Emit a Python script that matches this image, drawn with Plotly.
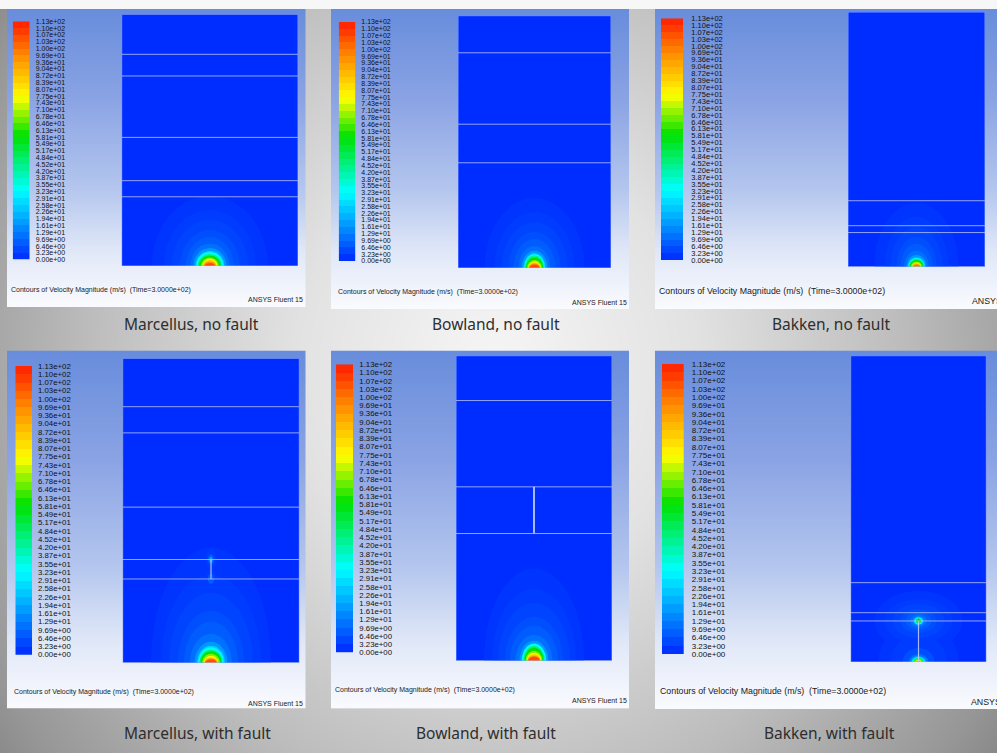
import numpy as np
import plotly.graph_objects as go
from plotly.colors import sample_colorscale

# ------------------------------------------------------------------ data
tick_labels = ["0.00e+00", "3.23e+00", "6.46e+00", "9.69e+00", "1.29e+01", "1.61e+01",
               "1.94e+01", "2.26e+01", "2.58e+01", "2.91e+01", "3.23e+01", "3.55e+01",
               "3.87e+01", "4.20e+01", "4.52e+01", "4.84e+01", "5.17e+01", "5.49e+01",
               "5.81e+01", "6.13e+01", "6.46e+01", "6.78e+01", "7.10e+01", "7.43e+01",
               "7.75e+01", "8.07e+01", "8.39e+01", "8.72e+01", "9.04e+01", "9.36e+01",
               "9.69e+01", "1.00e+02", "1.03e+02", "1.07e+02", "1.10e+02", "1.13e+02"]
tick_values = [float(s) for s in tick_labels]
vel_min, vel_max = 0.0, 113.0
background_velocity = 0.8   # far-field velocity in the formation (m/s)

velocity_colorscale = [
    [0.00, "rgb(0,40,255)"],
    [0.29, "rgb(0,255,255)"],
    [0.52, "rgb(0,225,0)"],
    [0.68, "rgb(255,255,0)"],
    [0.84, "rgb(255,150,0)"],
    [1.00, "rgb(255,30,0)"],
]

panel_titles = ["Marcellus, no fault", "Bowland, no fault", "Bakken, no fault",
                "Marcellus, with fault", "Bowland, with fault", "Bakken, with fault"]
info_text = "Contours of Velocity Magnitude (m/s) \u00a0(Time=3.0000e+02)"
brand_text = "ANSYS Fluent 15"

# layer boundaries: depth as fraction of domain height (0 = top)
marcellus_layers = [0.159, 0.245, 0.489, 0.661, 0.725]
bowland_layers = [0.147, 0.430, 0.583]
bakken_layers = [0.741, 0.839, 0.866]
# fault extent (depth fractions), on the injection axis
marcellus_fault = [0.661, 0.725]
bowland_fault = [0.430, 0.583]
bakken_fault = [0.866, 1.0]

# velocity contour extents around sources:
# level (m/s), half-width (fraction of domain width), height (fraction of domain depth)
halo_levels = [2.0, 3.0, 4.2, 6.0, 8.0, 11.0, 17.0, 25.8, 32.3, 45.2, 58.1, 67.8, 77.5, 87.2, 96.9, 106]

p1_levels = halo_levels
p1_rx = [0.329, 0.261, 0.216, 0.170, 0.136, 0.111, 0.094, 0.082, 0.077, 0.070, 0.062, 0.051, 0.043, 0.039, 0.034, 0.029]
p1_ry = [0.278, 0.222, 0.183, 0.143, 0.115, 0.089, 0.072, 0.060, 0.055, 0.048, 0.042, 0.034, 0.029, 0.024, 0.018, 0.012]

p2_levels = halo_levels
p2_rx = [0.327, 0.261, 0.216, 0.170, 0.137, 0.105, 0.085, 0.072, 0.067, 0.063, 0.057, 0.049, 0.042, 0.039, 0.036, 0.033]
p2_ry = [0.277, 0.222, 0.182, 0.143, 0.115, 0.087, 0.069, 0.059, 0.055, 0.050, 0.042, 0.032, 0.026, 0.022, 0.018, 0.014]

p3_levels = [2.0, 3.0, 4.2, 6.0, 8.0, 11.0, 17.0, 25.8, 32.3, 45.2, 58.1, 71.0, 84.0, 100]
p3_rx = [0.307, 0.234, 0.190, 0.146, 0.117, 0.091, 0.073, 0.064, 0.058, 0.055, 0.051, 0.040, 0.033, 0.027]
p3_ry = [0.251, 0.196, 0.157, 0.118, 0.090, 0.063, 0.047, 0.037, 0.034, 0.031, 0.027, 0.020, 0.015, 0.010]

p4_levels = halo_levels
p4_rx = [0.340, 0.283, 0.238, 0.187, 0.153, 0.119, 0.093, 0.079, 0.072, 0.066, 0.061, 0.051, 0.042, 0.039, 0.035, 0.033]
p4_ry = [0.378, 0.289, 0.230, 0.171, 0.135, 0.095, 0.069, 0.056, 0.051, 0.043, 0.038, 0.030, 0.023, 0.018, 0.014, 0.011]
p4_tip_levels = [3.0, 8.0, 20.0]
p4_tip_rx = [0.030, 0.018, 0.009]
p4_tip_ry = [0.032, 0.017, 0.009]

p5_levels = halo_levels
p5_rx = [0.321, 0.269, 0.231, 0.186, 0.154, 0.119, 0.093, 0.080, 0.077, 0.069, 0.062, 0.054, 0.048, 0.044, 0.040, 0.037]
p5_ry = [0.302, 0.236, 0.190, 0.144, 0.115, 0.085, 0.066, 0.057, 0.056, 0.049, 0.043, 0.033, 0.026, 0.021, 0.016, 0.013]

p6_top_levels = [2.0, 3.0, 4.2, 6.0, 8.0, 11.0, 17.0, 32.3, 58.1]
p6_top_rx = [0.324, 0.251, 0.192, 0.133, 0.096, 0.062, 0.042, 0.032, 0.021]
p6_top_ry = [0.098, 0.072, 0.056, 0.039, 0.029, 0.021, 0.015, 0.012, 0.0085]
p6_bot_levels = [2.0, 3.0, 6.0, 11.0, 19.4, 32.3, 48.4, 64.6, 80.0, 95.0]
p6_bot_rx = [0.295, 0.206, 0.118, 0.074, 0.059, 0.048, 0.041, 0.033, 0.024, 0.015]
p6_bot_ry = [0.131, 0.091, 0.046, 0.026, 0.020, 0.016, 0.014, 0.011, 0.007, 0.004]

panel_layers = [marcellus_layers, bowland_layers, bakken_layers,
                marcellus_layers, bowland_layers, bakken_layers]
panel_faults = [None, None, None, marcellus_fault, bowland_fault, bakken_fault]
panel_sources = [
    [dict(depth=1.0, full=False, lv=p1_levels, rx=p1_rx, ry=p1_ry)],
    [dict(depth=1.0, full=False, lv=p2_levels, rx=p2_rx, ry=p2_ry)],
    [dict(depth=1.0, full=False, lv=p3_levels, rx=p3_rx, ry=p3_ry)],
    [dict(depth=1.0, full=False, lv=p4_levels, rx=p4_rx, ry=p4_ry),
     dict(depth=marcellus_fault[0], full=True, lv=p4_tip_levels, rx=p4_tip_rx, ry=p4_tip_ry),
     dict(depth=marcellus_fault[1], full=True, lv=p4_tip_levels[:2], rx=p4_tip_rx[:2], ry=p4_tip_ry[:2])],
    [dict(depth=1.0, full=False, lv=p5_levels, rx=p5_rx, ry=p5_ry)],
    [dict(depth=1.0, full=False, lv=p6_bot_levels, rx=p6_bot_rx, ry=p6_bot_ry),
     dict(depth=bakken_fault[0], full=True, lv=p6_top_levels, rx=p6_top_rx, ry=p6_top_ry)],
]

# ------------------------------------------------------------------ layout geometry (pixels)
W, H = 997, 753
FONT_SMALL = "Liberation Sans Narrow, Liberation Sans, Arial, sans-serif"
FONT_REG = "Liberation Sans, Arial, sans-serif"

geom = [
    dict(box=(7, 9, 305.5, 307), cbar=(12.7, 21.3, 29.7, 259.7), dom=(121.7, 14.3, 298, 266),
         tfont=(FONT_SMALL, 7), tgap=5, info=(9, 290, 7, "left"), brand=(305, 299.7, 7, "right"),
         cap=(191, 324), fw=1.2),
    dict(box=(331, 9, 629, 309), cbar=(338.7, 22, 355.3, 261), dom=(458, 15.7, 611, 268),
         tfont=(FONT_SMALL, 7), tgap=5, info=(335.7, 292.3, 7, "left"), brand=(629, 302, 7, "right"),
         cap=(495.5, 324), fw=1.2),
    dict(box=(655, 9, 997, 309), cbar=(661, 18.3, 683.3, 260), dom=(848, 12, 985, 266.7),
         tfont=(FONT_REG, 7.5), tgap=7, info=(657, 291.3, 8.8, "left"), brand=(970, 300.7, 8.8, "left"),
         cap=(831.3, 324), fw=1.2),
    dict(box=(7, 350.5, 305.5, 708.5), cbar=(15.3, 366, 32, 654.7), dom=(122.7, 358.3, 299.3, 662.7),
         tfont=(FONT_SMALL, 7.8), tgap=5, info=(12, 692.3, 7, "left"), brand=(305, 703.3, 7, "right"),
         cap=(197.5, 732.5), fw=1.2),
    dict(box=(331, 350.5, 629.5, 708.7), cbar=(336, 364.3, 353.3, 652.7), dom=(456, 355.7, 612, 660.7),
         tfont=(FONT_SMALL, 7.8), tgap=5, info=(332.7, 690, 7, "left"), brand=(629.3, 700.7, 7, "right"),
         cap=(485.5, 732.5), fw=2.0),
    dict(box=(655, 350.5, 997, 709), cbar=(662, 364, 683.7, 654), dom=(850.7, 355.7, 986.3, 662),
         tfont=(FONT_REG, 8), tgap=7, info=(658.3, 691, 8.8, "left"), brand=(969.3, 702.3, 8.8, "left"),
         cap=(829, 732.5), fw=1.2),
]


def fx(px):
    return min(max(px / W, 0.0), 1.0)


def fy(py):
    return min(max(1 - py / H, 0.0), 1.0)


def vcolor(v):
    return sample_colorscale(velocity_colorscale, [(v - vel_min) / (vel_max - vel_min)])[0]


fig = go.Figure()
layout = dict(width=W, height=H, autosize=False, margin=dict(l=0, r=0, t=0, b=0, pad=0),
              paper_bgcolor="#9a9a9a", plot_bgcolor="rgba(0,0,0,0)", showlegend=False)
annotations = []


def ax_names(n):
    return ("x" if n == 1 else f"x{n}"), ("y" if n == 1 else f"y{n}")


def set_axes(n, xdom, ydom, xr, yr, yextra=None):
    xk = "xaxis" if n == 1 else f"xaxis{n}"
    yk = "yaxis" if n == 1 else f"yaxis{n}"
    xa, ya = ax_names(n)
    layout[xk] = dict(domain=xdom, range=xr, visible=False, fixedrange=True, anchor=ya, automargin=False)
    yd = dict(domain=ydom, range=yr, visible=False, fixedrange=True, anchor=xa, automargin=False)
    if yextra:
        yd.update(yextra)
    layout[yk] = yd


# ---- slide background (decorative radial light)
bx = np.linspace(0, W, 60)
by = np.linspace(0, H, 46)
BX, BY = np.meshgrid(bx, by)
bz = np.sqrt(((BX - 495) / 560) ** 2 + ((BY - 370) / 600) ** 2)
fig.add_trace(go.Heatmap(x=bx, y=by, z=bz, zmin=0, zmax=1.2, zsmooth="best", showscale=False,
                         hoverinfo="skip",
                         colorscale=[[0, "#f6f6f6"], [0.3, "#e2e2e2"], [0.6, "#bdbdbd"],
                                     [0.85, "#979797"], [1, "#787878"]],
                         xaxis="x", yaxis="y"))
set_axes(1, [0, 1], [0, 1], [0, W], [H, 0])

band_index = list(range(len(tick_labels)))
band_mids = [(tick_values[k] + tick_values[k + 1]) / 2 for k in range(len(tick_values) - 1)]

n_panels = len(panel_titles)
for i in range(n_panels):
    g = geom[i]
    # ---- panel background gradient
    n_bg = 2 + i
    xa, ya = ax_names(n_bg)
    gy = np.linspace(0, 1, 12)
    fig.add_trace(go.Heatmap(x=[0, 1], y=gy, z=[[v, v] for v in gy], zmin=0, zmax=1, zsmooth="best",
                             showscale=False, hoverinfo="skip",
                             colorscale=[[0, "rgb(104,141,220)"], [0.3, "rgb(138,163,228)"],
                                         [0.6, "rgb(180,198,238)"], [0.8, "rgb(222,230,247)"],
                                         [1, "rgb(250,251,254)"]],
                             xaxis=xa, yaxis=ya))
    x0, y0, x1, y1 = g["box"]
    set_axes(n_bg, [fx(x0), fx(x1)], [fy(y1), fy(y0)], [0, 1], [1, 0])

    # ---- colour bar (one band per contour interval)
    n_cb = 8 + i
    xa, ya = ax_names(n_cb)
    fig.add_trace(go.Heatmap(x=[0, 1], y=band_index, z=[[m] for m in band_mids],
                             zmin=vel_min, zmax=vel_max, colorscale=velocity_colorscale,
                             showscale=False, hoverinfo="skip", xaxis=xa, yaxis=ya))
    x0, y0, x1, y1 = g["cbar"]
    set_axes(n_cb, [fx(x0), fx(x1)], [fy(y1), fy(y0)], [0, 1], [band_index[0], band_index[-1]],
             yextra=dict(visible=True, side="right", showline=False, showgrid=False, zeroline=False,
                         ticks="", tickmode="array", tickvals=band_index, ticktext=tick_labels,
                         ticklabelstandoff=g["tgap"],
                         tickfont=dict(family=g["tfont"][0], size=g["tfont"][1], color="#111111")))

    # ---- flow domain
    n_d = 14 + i
    xa, ya = ax_names(n_d)
    x0, y0, x1, y1 = g["dom"]
    set_axes(n_d, [fx(x0), fx(x1)], [fy(y1), fy(y0)], [-0.5, 0.5], [1, 0])
    fig.add_trace(go.Scatter(x=[-0.5, 0.5, 0.5, -0.5, -0.5], y=[0, 0, 1, 1, 0], mode="lines",
                             fill="toself", fillcolor=vcolor(background_velocity), line=dict(width=0),
                             hoverinfo="skip", xaxis=xa, yaxis=ya))
    rings = []
    for s in panel_sources[i]:
        for lv, rx, ry in zip(s["lv"], s["rx"], s["ry"]):
            rings.append((lv, rx, ry, s["depth"], s["full"]))
    rings.sort(key=lambda r: r[0])
    for lv, rx, ry, depth, full in rings:
        th = np.linspace(0, 2 * np.pi if full else np.pi, 90)
        fig.add_trace(go.Scatter(x=rx * np.cos(th), y=depth - ry * np.sin(th), mode="lines",
                                 fill="toself", fillcolor=vcolor(lv), line=dict(width=0),
                                 hoverinfo="skip", xaxis=xa, yaxis=ya))
    lx, ly = [], []
    for d in panel_layers[i]:
        lx += [-0.5, 0.5, None]
        ly += [d, d, None]
    fig.add_trace(go.Scatter(x=lx, y=ly, mode="lines", line=dict(color="rgba(170,185,255,0.85)", width=1),
                             hoverinfo="skip", xaxis=xa, yaxis=ya))
    if panel_faults[i] is not None:
        f0, f1 = panel_faults[i]
        fig.add_trace(go.Scatter(x=[0, 0], y=[f0, f1], mode="lines",
                                 line=dict(color="rgba(185,200,255,0.9)", width=g["fw"]),
                                 hoverinfo="skip", xaxis=xa, yaxis=ya))
    fig.add_trace(go.Scatter(x=[-0.5, 0.5, 0.5, -0.5, -0.5], y=[0, 0, 1, 1, 0], mode="lines",
                             line=dict(color="rgba(150,170,255,0.8)", width=1),
                             hoverinfo="skip", xaxis=xa, yaxis=ya))

    # ---- texts
    ix, iy, isz, ian = g["info"]
    annotations.append(dict(x=ix / W, y=1 - iy / H, xref="paper", yref="paper", text=info_text,
                            showarrow=False, xanchor=ian, yanchor="middle",
                            font=dict(family=FONT_REG, size=isz, color="#1a1a1a")))
    bx_, by_, bsz, ban = g["brand"]
    annotations.append(dict(x=bx_ / W, y=1 - by_ / H, xref="paper", yref="paper", text=brand_text,
                            showarrow=False, xanchor=ban, yanchor="middle",
                            font=dict(family=FONT_REG, size=bsz, color="#1a1a1a")))
    cx, cy = g["cap"]
    annotations.append(dict(x=cx / W, y=1 - cy / H, xref="paper", yref="paper", text=panel_titles[i],
                            showarrow=False, xanchor="center", yanchor="middle",
                            font=dict(family="Noto Sans, DejaVu Sans, sans-serif", size=15.5, color="#2e2e2e")))

layout["annotations"] = annotations
layout["shapes"] = [dict(type="rect", xref="paper", yref="paper", x0=0, x1=1, y0=1 - 9 / H, y1=1,
                         fillcolor="#f7f7f7", line=dict(width=0), layer="above")]
fig.update_layout(**layout)
fig.write_html("out.html",
               config={"displayModeBar": False, "responsive": False, "staticPlot": True},
               post_script="document.body.style.margin='0px';document.body.style.overflow='hidden';")
